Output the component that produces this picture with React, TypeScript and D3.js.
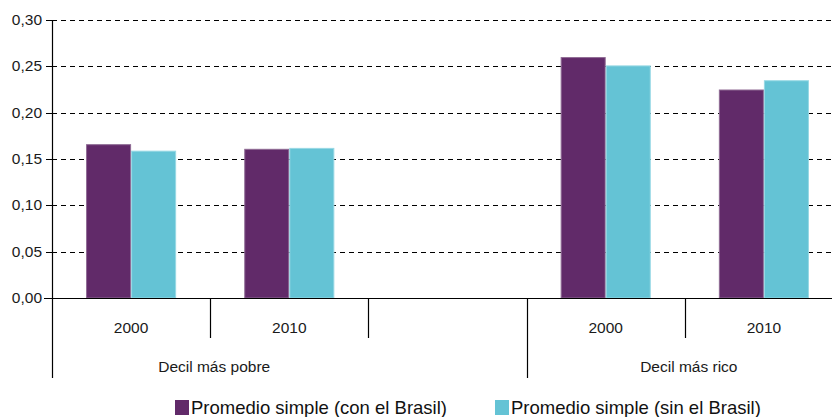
import React from "react";
import * as d3 from "d3";

// chart data
const slots = ["p2000", "p2010", "gap", "r2000", "r2010"];
const slotLabels = ["2000", "2010", "", "2000", "2010"];
const groups = [
  { label: "Decil más pobre", slots: ["p2000", "p2010"] },
  { label: "Decil más rico", slots: ["r2000", "r2010"] },
];
const seriesNames = ["Promedio simple (con el Brasil)", "Promedio simple (sin el Brasil)"];
const conBrasil = [0.166, 0.161, null, 0.26, 0.225];
const sinBrasil = [0.159, 0.162, null, 0.251, 0.235];
const yTicks = [0, 0.05, 0.1, 0.15, 0.2, 0.25, 0.3];

const colors = ["#612a69", "#64c3d5"];
const strokes = ["#8f6b94", "#97d8e4"];

const W = 832;
const H = 417;
const left = 52;
const right = 843;
const top = 20;
const bottom = 298;

const fmt = (v: number) => d3.format(".2f")(v).replace(".", ",");

export default function App() {
  const x = d3.scaleBand<string>().domain(slots).range([left, right]).padding(0);
  const inner = d3
    .scaleBand<number>()
    .domain([0, 1])
    .range([0, x.bandwidth()])
    .paddingInner(0)
    .paddingOuter(0.756);
  const y = d3.scaleLinear().domain([0, 0.3]).range([bottom, top]);

  const series = [conBrasil, sinBrasil];
  const font = "'Liberation Sans', Arial, sans-serif";

  // separators between slots
  const seps = slots.slice(1).map((s) => x(s) as number);
  const longSep = x("r2000") as number;

  return (
    <svg
      width={W}
      height={H}
      style={{ position: "absolute", left: 0, top: 0, background: "#fff" }}
      fontFamily={font}
    >
      {/* gridlines */}
      {yTicks.slice(1).map((t) => (
        <line
          key={t}
          x1={left}
          x2={right}
          y1={Math.round(y(t)) + 0.5}
          y2={Math.round(y(t)) + 0.5}
          stroke="#000"
          strokeWidth={1}
          strokeDasharray="5,4"
        />
      ))}

      {/* bars */}
      {series.map((vals, si) =>
        slots.map((s, i) => {
          const v = vals[i];
          if (v == null) return null;
          const bx = (x(s) as number) + (inner(si) as number);
          return (
            <rect
              key={s + si}
              x={bx + 0.5}
              y={y(v) + 0.5}
              width={inner.bandwidth() - 1}
              height={bottom - y(v) - 0.5}
              fill={colors[si]}
              stroke={strokes[si]}
              strokeWidth={1}
            />
          );
        })
      )}

      {/* y axis */}
      <line x1={left + 0.5} x2={left + 0.5} y1={top} y2={378} stroke="#000" strokeWidth={1.2} />
      {yTicks.map((t) => (
        <g key={"yt" + t}>
          <line
            x1={left - 6}
            x2={left}
            y1={Math.round(y(t)) + 0.5}
            y2={Math.round(y(t)) + 0.5}
            stroke="#000"
          />
          <text x={left - 10} y={y(t) + 5} textAnchor="end" fontSize={15.5} fill="#1a1a1a">
            {fmt(t)}
          </text>
        </g>
      ))}

      {/* x axis */}
      <line x1={left - 8} x2={right} y1={bottom + 0.5} y2={bottom + 0.5} stroke="#000" strokeWidth={1.2} />
      {seps.map((sx) => (
        <line
          key={"sep" + sx}
          x1={Math.round(sx) + 0.5}
          x2={Math.round(sx) + 0.5}
          y1={bottom}
          y2={sx === longSep ? 378 : 338}
          stroke="#000"
          strokeWidth={1.2}
        />
      ))}
      {slots.map((s, i) => (
        <text
          key={"xl" + s}
          x={(x(s) as number) + x.bandwidth() / 2}
          y={333}
          textAnchor="middle"
          fontSize={15.5}
          fill="#1a1a1a"
        >
          {slotLabels[i]}
        </text>
      ))}
      {groups.map((g) => {
        const x0 = x(g.slots[0]) as number;
        const x1 = (x(g.slots[g.slots.length - 1]) as number) + x.bandwidth();
        return (
          <text key={g.label} x={(x0 + x1) / 2 + 4} y={372} textAnchor="middle" fontSize={15.5} fill="#1a1a1a">
            {g.label}
          </text>
        );
      })}

      {/* legend */}
      {seriesNames.map((n, i) => {
        const lx = i === 0 ? 175 : 495;
        return (
          <g key={n}>
            <rect x={lx} y={400} width={14} height={15} fill={colors[i]} />
            <text x={lx + 16} y={414} fontSize={18.5} fill="#111">
              {n}
            </text>
          </g>
        );
      })}
    </svg>
  );
}
